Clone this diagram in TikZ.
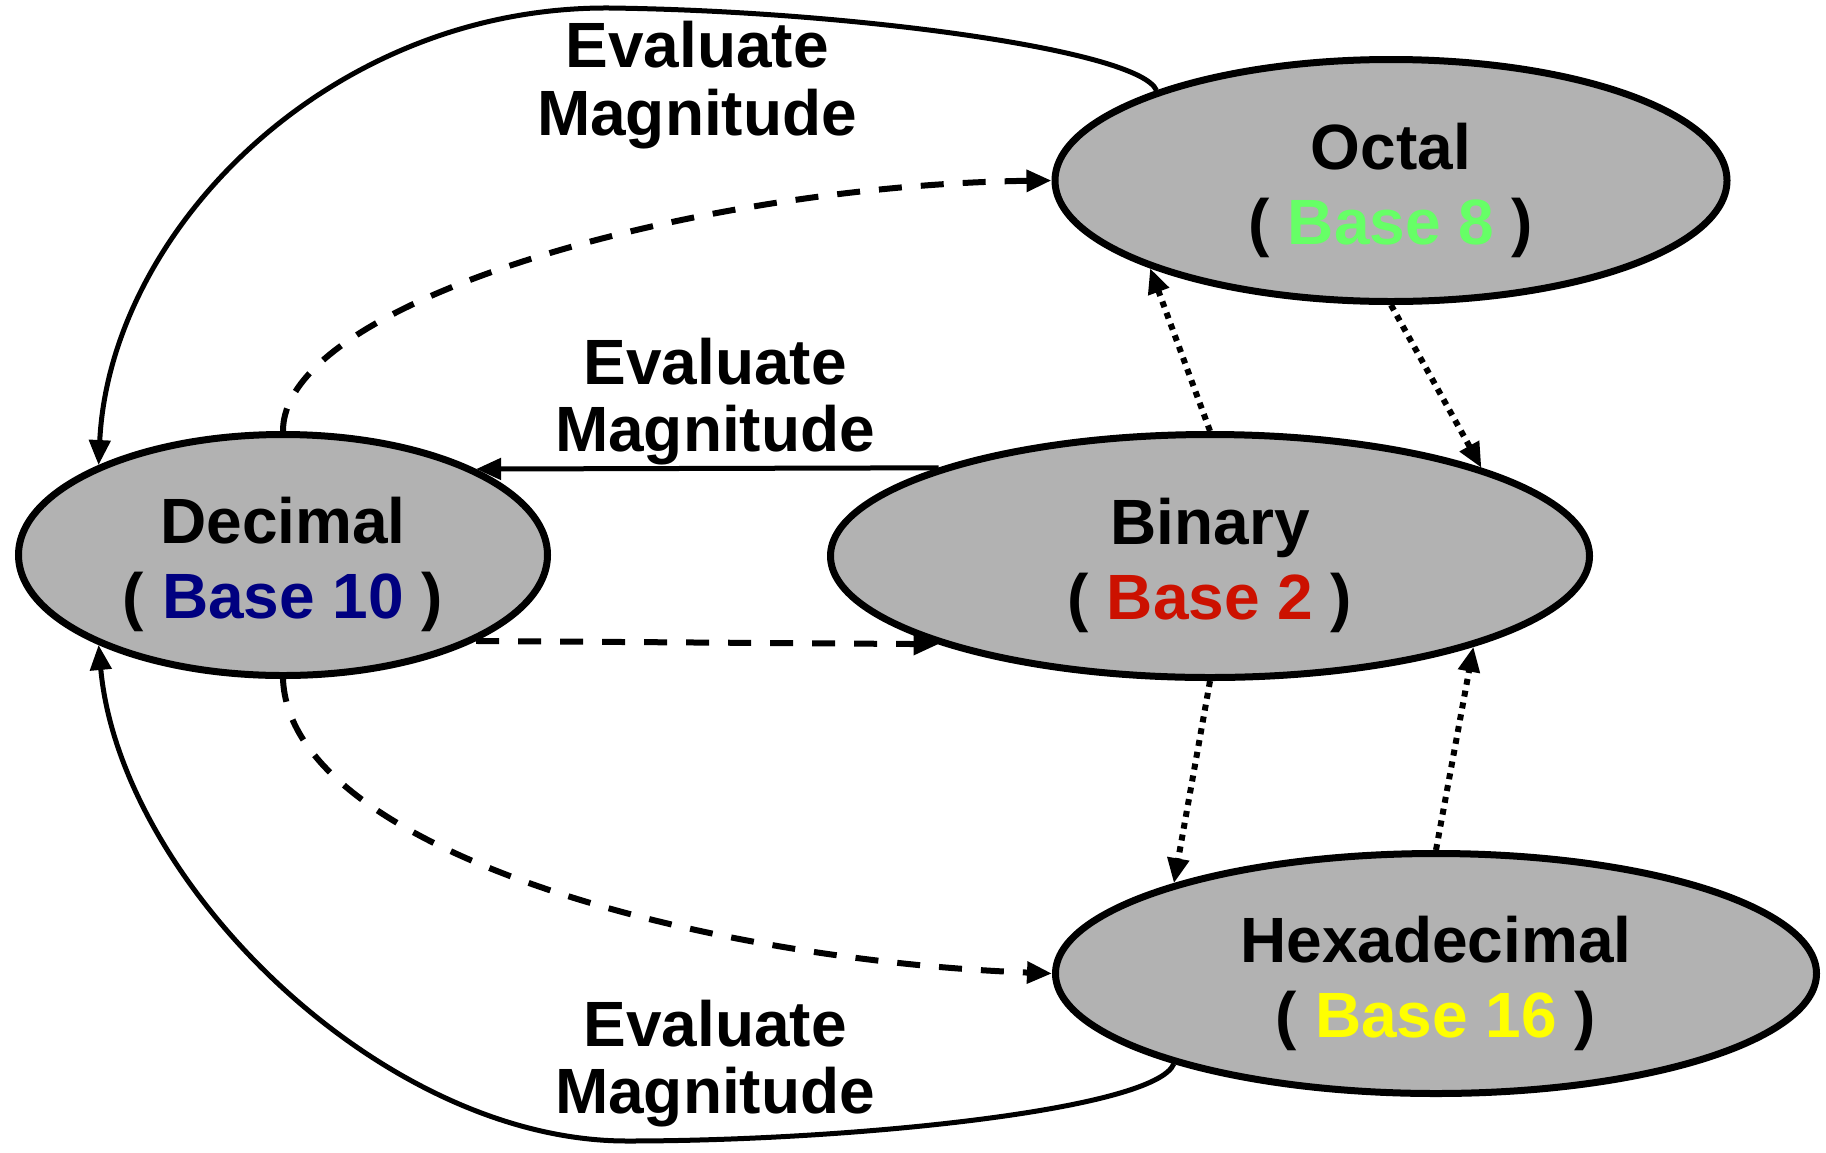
\documentclass[tikz,border=0pt]{standalone}
\usepackage{fontspec}
\setmainfont{Liberation Sans}
\usetikzlibrary{arrows.meta,shapes.geometric}
\definecolor{nodefill}{RGB}{178,178,178}
\definecolor{bten}{RGB}{0,0,128}
\definecolor{btwo}{RGB}{204,17,0}
\definecolor{beight}{RGB}{102,255,102}
\definecolor{bsixteen}{RGB}{255,255,0}
\begin{document}
\begin{tikzpicture}[x=1pt,y=-1pt,
  basenode/.style={ellipse, draw=black, line width=7pt, fill=nodefill, inner sep=0pt,
    align=center, font=\fontsize{64}{75}\selectfont\bfseries},
  lbl/.style={align=center, inner sep=0pt, font=\fontsize{64}{67.5}\selectfont\bfseries},
  arrowtip/.style={-{Triangle[length=25pt,width=21pt]}},
  solidarrow/.style={arrowtip, line width=5pt},
  dasharrow/.style={arrowtip, line width=6pt, dash pattern=on 23pt off 19pt},
  dotarrow/.style={arrowtip, line width=6pt, dash pattern=on 6pt off 6pt},
]
\useasboundingbox (0,0) rectangle (1826,1152);

% nodes
\node[basenode, minimum width=529pt, minimum height=241pt] (dec) at (283,555)
  {\rule{0pt}{66pt}Decimal\\( \textcolor{bten}{Base 10} )};
\node[basenode, minimum width=759pt, minimum height=243pt] (bin) at (1210,556)
  {\rule{0pt}{66pt}Binary\\( \textcolor{btwo}{Base 2} )};
\node[basenode, minimum width=672pt, minimum height=242pt] (oct) at (1391,180.5)
  {\rule{0pt}{66pt}Octal\\( \textcolor{beight}{Base 8} )};
\node[basenode, minimum width=761pt, minimum height=240pt] (hex) at (1436,973.5)
  {\rule{0pt}{66pt}Hexadecimal\\( \textcolor{bsixteen}{Base 16} )};

% labels
\node[lbl] (l1) at (697,85) {Evaluate\\Magnitude};
\node[lbl] (l2) at (715,401.5) {Evaluate\\Magnitude};
\node[lbl] (l3) at (715,1063.5) {Evaluate\\Magnitude};

\coordinate (topapex) at (610,8);
\coordinate (botapex) at (627,1141);

% solid "evaluate magnitude" connectors
\draw[solidarrow] (oct.159) .. controls (1140,50) and (850,11) .. (topapex)
  .. controls (330,6) and (110,230) .. (dec.154);
\draw[solidarrow] (bin.162.07) -- (dec.24.49);
\draw[solidarrow] (hex.-161.85) .. controls (1155,1110) and (850,1141) .. (botapex)
  .. controls (380,1141) and (120,880) .. (dec.-154);

% dashed connectors from decimal
\draw[dasharrow] (dec.north) .. controls (283,300) and (700,185) .. (oct.west);
\draw[dasharrow] (dec.-24.49) -- (bin.-162.81);
\draw[dasharrow] (dec.south) .. controls (290,850) and (700,960) .. (hex.west);

% dotted connectors
\draw[dotarrow] (bin.north) -- (oct.200.5);
\draw[dotarrow] (oct.south) -- (bin.18);
\draw[dotarrow] (bin.south) -- (hex.161.8);
\draw[dotarrow] (hex.north) -- (bin.-19);
\end{tikzpicture}
\end{document}
